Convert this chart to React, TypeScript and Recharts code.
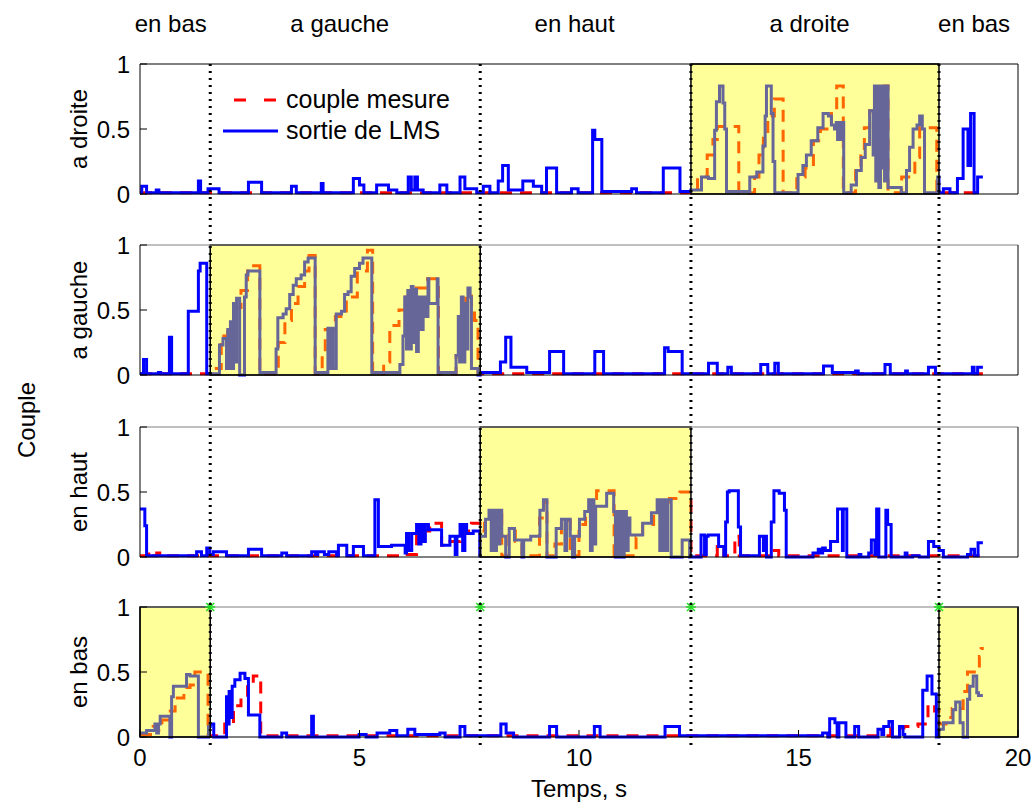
import React from 'react';
import {
  ComposedChart,
  Line,
  Scatter,
  XAxis,
  YAxis,
  ReferenceArea,
  ReferenceLine,
  Legend,
} from 'recharts';

type Pt = [number, number];

// labels
const seriesNames = ['couple mesure', 'sortie de LMS'];
const panelNames = ['a droite', 'a gauche', 'en haut', 'en bas'];
const phaseNames = ['en bas', 'a gauche', 'en haut', 'a droite', 'en bas'];
const phaseLabelAt = [0.7, 4.55, 9.9, 15.25, 19.0];
const switchTimes = [1.6, 7.75, 12.55, 18.2];
const xTicksFine = [0, 2, 4, 6, 8, 10, 12, 14, 16, 18, 20];
const xTicks = [0, 5, 10, 15, 20];
const yTicks = [0, 0.5, 1];

// shaded (active) intervals per panel
const droiteZones: Pt[] = [[12.55, 18.2]];
const gaucheZones: Pt[] = [[1.6, 7.75]];
const hautZones: Pt[] = [[7.75, 12.55]];
const basZones: Pt[] = [[0, 1.6], [18.2, 20]];

// step data [t, value] : value holds from t to next t
const droiteMes: Pt[] = [
  [0, 0.01], [12.7, 0.13], [12.92, 0.3], [13.05, 0.42], [13.15, 0.52], [13.64, 0.01],
  [14.0, 0.13], [14.1, 0.3], [14.2, 0.45], [14.3, 0.6], [14.45, 0.73], [14.65, 0.01],
  [14.96, 0.13], [15.15, 0.2], [15.34, 0.41], [15.5, 0.5], [15.75, 0.64], [15.87, 0.83], [16.02, 0.01],
  [16.3, 0.2], [16.42, 0.33], [16.5, 0.51], [16.62, 0.64], [16.96, 0.83], [17.04, 0.01],
  [17.35, 0.13], [17.65, 0.28], [17.76, 0.51], [18.15, 0.01], [19.2, 0.01],
];
const droiteLms: Pt[] = [
  [0, 0.01], [0.04, 0.06], [0.15, 0.01], [0.37, 0.03], [0.43, 0.01], [1.33, 0.1], [1.38, 0.01],
  [1.55, 0.04], [1.8, 0.01], [2.47, 0.09], [2.77, 0.01], [3.45, 0.06], [3.56, 0.01], [4.13, 0.08],
  [4.17, 0.01], [4.86, 0.12], [5.0, 0.07], [5.1, 0.01], [5.39, 0.07], [5.66, 0.03], [5.85, 0.01],
  [6.11, 0.13], [6.18, 0.03], [6.26, 0.13], [6.32, 0.03], [6.45, 0.01], [6.83, 0.07], [6.99, 0.01],
  [7.29, 0.13], [7.4, 0.04], [7.67, 0.01], [7.82, 0.06], [7.97, 0.01], [8.16, 0.1], [8.26, 0.22],
  [8.39, 0.03], [8.72, 0.1], [8.96, 0.06], [9.15, 0.01], [9.26, 0.2], [9.49, 0.01], [9.83, 0.04],
  [9.98, 0.01], [10.31, 0.49], [10.36, 0.42], [10.52, 0.02], [11.2, 0.04], [11.31, 0.01],
  [11.92, 0.2], [12.3, 0.02],
  [12.55, 0.03], [12.79, 0.13], [12.95, 0.12], [13.09, 0.49], [13.13, 0.71], [13.2, 0.83],
  [13.28, 0.7], [13.32, 0.5], [13.36, 0.02], [13.89, 0.13], [14.05, 0.17], [14.19, 0.37],
  [14.24, 0.6], [14.27, 0.83], [14.38, 0.62], [14.42, 0.25], [14.46, 0.01], [14.99, 0.15],
  [15.1, 0.22], [15.18, 0.3], [15.29, 0.41], [15.44, 0.51], [15.56, 0.62], [15.68, 0.6],
  [15.75, 0.53], [15.82, 0.5], [15.86, 0.55], [15.89, 0.42], [15.92, 0.55], [15.95, 0.42],
  [15.98, 0.55], [16.03, 0.01], [16.2, 0.07], [16.32, 0.18], [16.43, 0.28], [16.52, 0.38],
  [16.62, 0.64], [16.7, 0.3], [16.73, 0.83], [16.76, 0.1], [16.8, 0.83], [16.83, 0.05],
  [16.87, 0.83], [16.9, 0.2], [16.93, 0.83], [16.96, 0.1], [16.99, 0.83], [17.04, 0.05],
  [17.34, 0.01], [17.46, 0.18], [17.53, 0.36], [17.61, 0.5], [17.7, 0.53], [17.76, 0.6],
  [17.82, 0.5], [17.87, 0.01], [18.17, 0.13],
  [18.2, 0.01], [18.3, 0.04], [18.45, 0.01], [18.62, 0.12], [18.75, 0.5], [18.86, 0.22],
  [18.92, 0.62], [19.0, 0.01], [19.08, 0.13], [19.2, 0.13],
];

const gaucheMes: Pt[] = [
  [0, 0.01], [1.7, 0.05], [1.85, 0.3], [2.0, 0.4], [2.15, 0.52], [2.3, 0.65], [2.45, 0.8], [2.55, 0.84],
  [2.73, 0.01], [3.15, 0.25], [3.3, 0.42], [3.45, 0.55], [3.6, 0.68], [3.75, 0.8], [3.85, 0.92], [3.99, 0.01],
  [4.15, 0.15], [4.22, 0.35], [4.45, 0.45], [4.7, 0.6], [4.95, 0.8], [5.18, 0.96], [5.3, 0.01],
  [5.55, 0.1], [5.69, 0.38], [5.9, 0.5], [6.05, 0.6], [6.25, 0.67], [6.55, 0.74], [6.8, 0.01],
  [7.2, 0.15], [7.35, 0.45], [7.42, 0.62], [7.55, 0.54], [7.62, 0.42], [7.7, 0.01], [19.2, 0.01],
];
const gaucheLms: Pt[] = [
  [0, 0.01], [0.08, 0.12], [0.15, 0.01], [0.42, 0.02], [0.47, 0.01], [0.67, 0.29], [0.72, 0.01],
  [1.1, 0.49], [1.33, 0.8], [1.37, 0.86], [1.52, 0.01],
  [1.81, 0.23], [1.89, 0.28], [1.97, 0.05], [2.0, 0.35], [2.03, 0.05], [2.06, 0.41], [2.1, 0.05],
  [2.13, 0.55], [2.17, 0.1], [2.2, 0.59], [2.27, 0.0], [2.38, 0.6], [2.42, 0.77], [2.46, 0.8],
  [2.73, 0.02], [3.1, 0.2], [3.14, 0.44], [3.26, 0.47], [3.33, 0.51], [3.41, 0.62], [3.49, 0.69],
  [3.56, 0.74], [3.67, 0.77], [3.75, 0.87], [3.83, 0.9], [3.99, 0.02], [4.28, 0.36], [4.32, 0.05],
  [4.36, 0.36], [4.4, 0.05], [4.47, 0.47], [4.59, 0.49], [4.66, 0.62], [4.74, 0.64], [4.81, 0.76],
  [4.89, 0.82], [5.0, 0.86], [5.08, 0.9], [5.28, 0.02], [5.92, 0.08], [5.99, 0.3], [6.03, 0.6],
  [6.07, 0.2], [6.1, 0.65], [6.14, 0.2], [6.18, 0.68], [6.22, 0.25], [6.26, 0.66], [6.3, 0.18],
  [6.34, 0.6], [6.4, 0.35], [6.45, 0.6], [6.5, 0.45], [6.56, 0.74], [6.58, 0.55], [6.77, 0.74],
  [6.79, 0.02], [7.2, 0.15], [7.25, 0.45], [7.28, 0.1], [7.32, 0.6], [7.36, 0.1], [7.4, 0.55],
  [7.44, 0.2], [7.47, 0.67], [7.52, 0.6], [7.55, 0.05], [7.7, 0.0],
  [7.75, 0.02], [8.21, 0.1], [8.33, 0.29], [8.45, 0.06], [8.81, 0.02], [9.33, 0.18], [9.65, 0.01],
  [10.36, 0.18], [10.56, 0.01], [11.95, 0.21], [12.03, 0.18], [12.35, 0.01], [12.95, 0.09],
  [13.15, 0.01], [13.39, 0.06], [13.47, 0.01], [14.14, 0.08], [14.3, 0.01], [14.46, 0.09],
  [14.54, 0.01], [15.57, 0.07], [15.77, 0.02], [16.3, 0.03], [16.36, 0.01], [16.97, 0.08],
  [17.09, 0.01], [17.44, 0.03], [17.48, 0.01], [17.96, 0.06], [18.12, 0.01], [18.96, 0.06],
  [19.0, 0.01], [19.08, 0.06], [19.2, 0.06],
];

const hautMes: Pt[] = [
  [0, 0.01], [0.2, 0.04], [0.28, 0.01], [0.38, 0.03], [0.45, 0.01], [6.0, 0.02], [6.3, 0.2], [6.6, 0.26],
  [6.87, 0.09], [7.06, 0.12], [7.3, 0.2], [7.55, 0.26], [7.75, 0.2], [7.85, 0.26], [8.0, 0.35],
  [8.24, 0.01], [8.4, 0.2], [8.55, 0.12], [8.7, 0.01], [9.1, 0.3], [9.2, 0.42], [9.27, 0.01], [9.45, 0.1],
  [9.6, 0.28], [9.8, 0.01], [10.0, 0.25], [10.15, 0.35], [10.25, 0.45], [10.4, 0.51], [10.8, 0.01],
  [11.3, 0.15], [11.45, 0.25], [11.7, 0.36], [11.85, 0.42], [12.06, 0.45], [12.3, 0.5], [12.55, 0.01],
  [13.15, 0.08], [13.3, 0.01], [13.55, 0.16], [13.65, 0.01], [14.45, 0.05], [14.55, 0.01], [19.2, 0.01],
];
const hautLms: Pt[] = [
  [0, 0.37], [0.11, 0.24], [0.15, 0.01], [1.29, 0.04], [1.4, 0.01], [1.52, 0.07], [1.59, 0.02],
  [1.67, 0.04], [1.97, 0.01], [2.47, 0.06], [2.77, 0.01], [3.23, 0.03], [3.34, 0.01], [3.91, 0.04],
  [4.0, 0.02], [4.05, 0.04], [4.2, 0.02], [4.3, 0.04], [4.48, 0.01], [4.52, 0.09], [4.71, 0.01],
  [4.86, 0.08], [5.09, 0.01], [5.35, 0.44], [5.43, 0.08], [5.73, 0.09], [6.04, 0.03], [6.07, 0.18],
  [6.12, 0.05], [6.19, 0.18], [6.3, 0.25], [6.35, 0.1], [6.4, 0.25], [6.45, 0.12], [6.5, 0.25],
  [6.57, 0.21], [6.87, 0.09], [7.06, 0.16], [7.18, 0.02], [7.22, 0.16], [7.29, 0.25], [7.35, 0.05],
  [7.4, 0.25], [7.44, 0.18], [7.59, 0.2], [7.74, 0.01],
  [7.75, 0.16], [7.87, 0.29], [7.95, 0.36], [8.0, 0.05], [8.04, 0.36], [8.08, 0.05], [8.12, 0.36],
  [8.16, 0.1], [8.2, 0.36], [8.24, 0.16], [8.33, 0.0], [8.41, 0.22], [8.53, 0.13], [8.7, 0.0],
  [8.74, 0.13], [8.9, 0.16], [9.11, 0.36], [9.19, 0.44], [9.27, 0.0], [9.48, 0.22], [9.6, 0.29],
  [9.68, 0.05], [9.72, 0.29], [9.8, 0.16], [9.85, 0.0], [9.9, 0.16], [10.01, 0.29], [10.13, 0.35],
  [10.22, 0.44], [10.26, 0.05], [10.3, 0.44], [10.34, 0.1], [10.38, 0.39], [10.63, 0.49],
  [10.79, 0.35], [10.83, 0.0], [10.87, 0.35], [10.91, 0.0], [10.95, 0.35], [10.99, 0.0],
  [11.03, 0.35], [11.08, 0.05], [11.12, 0.3], [11.16, 0.17], [11.45, 0.26], [11.65, 0.34],
  [11.78, 0.44], [11.84, 0.05], [11.9, 0.44], [11.96, 0.05], [12.02, 0.44], [12.1, 0.0],
  [12.35, 0.13], [12.52, 0.0],
  [12.78, 0.17], [12.86, 0.02], [12.9, 0.16], [12.94, 0.17], [13.18, 0.08], [13.3, 0.01],
  [13.34, 0.27], [13.38, 0.5], [13.42, 0.51], [13.63, 0.23], [13.68, 0.01], [14.11, 0.16],
  [14.2, 0.05], [14.23, 0.16], [14.27, 0.0], [14.38, 0.27], [14.44, 0.51], [14.56, 0.49],
  [14.68, 0.36], [14.72, 0.0], [15.33, 0.03], [15.45, 0.06], [15.5, 0.03], [15.55, 0.07],
  [15.61, 0.05], [15.73, 0.12], [15.85, 0.12], [15.89, 0.37], [16.0, 0.05], [16.02, 0.37],
  [16.1, 0.0], [16.38, 0.02], [16.42, 0.0], [16.6, 0.03], [16.66, 0.13], [16.74, 0.02],
  [16.78, 0.37], [16.83, 0.0], [16.99, 0.36], [17.03, 0.25], [17.11, 0.0], [17.43, 0.03],
  [17.47, 0.0], [17.6, 0.01], [17.75, 0.0], [17.96, 0.12], [18.08, 0.08], [18.2, 0.05], [18.3, 0.0],
  [18.85, 0.02], [18.93, 0.06], [19.01, 0.01], [19.09, 0.11], [19.2, 0.11],
];

const basMes: Pt[] = [
  [0, 0.02], [0.3, 0.08], [0.42, 0.05], [0.5, 0.13], [0.65, 0.2], [0.8, 0.3], [1.0, 0.38],
  [1.14, 0.4], [1.25, 0.5], [1.55, 0.01], [1.93, 0.1], [2.13, 0.24], [2.3, 0.31], [2.45, 0.4],
  [2.58, 0.47], [2.75, 0.01], [17.1, 0.07], [17.4, 0.08], [17.72, 0.1], [17.95, 0.25], [18.1, 0.2],
  [18.2, 0.1], [18.36, 0.15], [18.5, 0.22], [18.75, 0.35], [18.85, 0.5], [19.12, 0.62],
  [19.16, 0.68], [19.22, 0.68],
];
const basLms: Pt[] = [
  [0, 0.03], [0.15, 0.05], [0.34, 0.1], [0.38, 0.03], [0.42, 0.1], [0.46, 0.16], [0.68, 0.0],
  [0.72, 0.31], [0.76, 0.39], [1.06, 0.48], [1.14, 0.47], [1.33, 0.0], [1.56, 0.08],
  [1.6, 0.1], [1.68, 0.0], [1.97, 0.31], [2.0, 0.1], [2.03, 0.35], [2.07, 0.15], [2.1, 0.39],
  [2.16, 0.44], [2.28, 0.49], [2.39, 0.45], [2.47, 0.17], [2.73, 0.0], [3.23, 0.03], [3.34, 0.0],
  [3.91, 0.16], [3.95, 0.0], [4.99, 0.02], [5.15, 0.0], [5.4, 0.03], [5.69, 0.05], [5.85, 0.01],
  [6.1, 0.06], [6.26, 0.02], [6.83, 0.03], [6.95, 0.0], [7.29, 0.08], [7.4, 0.01],
  [8.22, 0.1], [8.34, 0.03], [8.51, 0.0], [9.33, 0.08], [9.49, 0.0], [10.35, 0.08], [10.48, 0.0],
  [11.96, 0.08], [12.29, 0.01], [15.55, 0.03], [15.67, 0.0], [15.71, 0.14], [15.83, 0.11],
  [15.88, 0.0], [15.92, 0.11], [16.08, 0.0], [16.28, 0.08], [16.37, 0.0], [16.81, 0.06],
  [16.9, 0.02], [16.94, 0.08], [17.06, 0.12], [17.14, 0.0], [17.3, 0.08], [17.38, 0.02],
  [17.42, 0.0], [17.83, 0.36], [17.93, 0.47], [18.04, 0.33], [18.14, 0.0],
  [18.2, 0.06], [18.3, 0.11], [18.52, 0.21], [18.58, 0.27], [18.68, 0.11], [18.75, 0.0],
  [18.85, 0.29], [18.9, 0.39], [18.98, 0.47], [19.06, 0.34], [19.1, 0.32], [19.2, 0.32],
];

const W = 1033;
const PH = 130;
const FONT = '"Liberation Sans", Arial, Helvetica, sans-serif';
const BLUE = '#0000ff';
const RED = '#ff0000';

const toPts = (a: Pt[]) => a.map(([t, v]) => ({ t, v }));

function LegendBox(props: any) {
  const items = (props.payload || []).filter((e: any) => e.type !== 'none');
  return (
    <div style={{ fontFamily: FONT, fontSize: 25, color: '#000' }}>
      {items.map((e: any, i: number) => (
        <div key={i} style={{ display: 'flex', alignItems: 'center', height: 31 }}>
          <svg width={58} height={8} style={{ display: 'block' }}>
            <line
              x1={i === 0 ? 12 : 1}
              y1={4}
              x2={56}
              y2={4}
              stroke={e.color}
              strokeWidth={3}
              strokeDasharray={i === 0 ? '12 18' : undefined}
            />
          </svg>
          <span style={{ marginLeft: 6, whiteSpace: 'nowrap' }}>{e.value}</span>
        </div>
      ))}
    </div>
  );
}

function Star(p: any) {
  const { cx, cy } = p;
  return (
    <g stroke="#22dd22" strokeWidth={1.5}>
      <line x1={cx - 5} y1={cy} x2={cx + 5} y2={cy} />
      <line x1={cx} y1={cy - 5} x2={cx} y2={cy + 5} />
      <line x1={cx - 4} y1={cy - 4} x2={cx + 4} y2={cy + 4} />
      <line x1={cx - 4} y1={cy + 4} x2={cx + 4} y2={cy - 4} />
    </g>
  );
}

function Panel({
  top, name, mesure, lms, zones, ticks, first, last, markers, topColor,
}: {
  top: number; name: string; mesure: Pt[]; lms: Pt[]; zones: Pt[]; ticks: number[];
  first?: boolean; last?: boolean; markers?: number[]; topColor: string;
}) {
  const mt = 16;
  const axisH = last ? 62 : 1;
  const mb = last ? 4 : 16;
  const txt = { fill: '#000', fontSize: 24, fontFamily: FONT };
  return (
    <div style={{ position: 'absolute', left: 0, top: top - mt - 1 }}>
      <ComposedChart
        width={W}
        height={mt + 1 + PH + axisH + mb}
        margin={{ top: mt, right: 14, bottom: mb, left: 80 }}
      >
        <XAxis
          type="number"
          dataKey="t"
          domain={[0, 20]}
          ticks={ticks}
          interval={0}
          height={axisH}
          stroke="#000"
          tickSize={-7}
          tickMargin={last ? 19 : 0}
          tick={last ? txt : false}
          label={last ? { value: 'Temps, s', position: 'insideBottom', offset: 2, ...txt } : undefined}
        />
        <XAxis
          xAxisId="top"
          orientation="top"
          type="number"
          dataKey="t"
          domain={[0, 20]}
          ticks={ticks}
          interval={0}
          height={1}
          stroke={topColor}
          tickSize={-7}
          tick={false}
        />
        <YAxis
          type="number"
          domain={[0, 1]}
          ticks={yTicks}
          interval={0}
          width={60}
          stroke="#000"
          tickSize={-7}
          tickMargin={17}
          tick={txt}
          label={{
            value: name,
            angle: -90,
            position: 'insideLeft',
            offset: -2,
            style: { textAnchor: 'middle' },
            ...txt,
          }}
        />
        <YAxis
          yAxisId="right"
          orientation="right"
          type="number"
          domain={[0, 1]}
          ticks={yTicks}
          interval={0}
          width={1}
          stroke="#000"
          tickSize={-7}
          tick={false}
        />
        <Line
          data={toPts(mesure)}
          dataKey="v"
          name={seriesNames[0]}
          type="stepAfter"
          stroke={RED}
          strokeWidth={3}
          strokeDasharray="12 8"
          dot={false}
          activeDot={false}
          isAnimationActive={false}
        />
        <Line
          data={toPts(lms)}
          dataKey="v"
          name={seriesNames[1]}
          type="stepAfter"
          stroke={BLUE}
          strokeWidth={3}
          dot={false}
          activeDot={false}
          isAnimationActive={false}
        />
        {/* invisible series so that the box axes (top / right) get drawn */}
        <Line
          data={toPts(lms)}
          dataKey="v"
          xAxisId="top"
          yAxisId="right"
          stroke="none"
          legendType="none"
          dot={false}
          activeDot={false}
          isAnimationActive={false}
        />
        {zones.map(([a, b]) => (
          <ReferenceArea
            key={a}
            x1={a}
            x2={b}
            y1={0}
            y2={1}
            fill="#ffff00"
            fillOpacity={0.4}
            stroke="#000"
            strokeWidth={1.5}
            ifOverflow="visible"
            {...({ zIndex: 450 } as any)}
          />
        ))}
        {markers && (
          <Scatter
            data={markers.map((t) => ({ t, v: 1 }))}
            dataKey="v"
            shape={Star}
            legendType="none"
            isAnimationActive={false}
          />
        )}
        {first && (
          <Legend
            content={LegendBox}
            layout="vertical"
            align="center"
            verticalAlign="middle"
            wrapperStyle={{ left: 222, top: 37, width: 260 }}
          />
        )}
      </ComposedChart>
    </div>
  );
}

export default function App() {
  const guide = switchTimes.map((t) => ({ t, v: 0 }));
  return (
    <div
      style={{
        position: 'absolute',
        left: 0,
        top: 0,
        width: W,
        height: 805,
        background: '#fff',
        overflow: 'hidden',
      }}
    >
      <Panel top={64} name={panelNames[0]} mesure={droiteMes} lms={droiteLms} zones={droiteZones} ticks={xTicksFine} first topColor="#000" />
      <Panel top={245} name={panelNames[1]} mesure={gaucheMes} lms={gaucheLms} zones={gaucheZones} ticks={xTicks} topColor="#808080" />
      <Panel top={427} name={panelNames[2]} mesure={hautMes} lms={hautLms} zones={hautZones} ticks={xTicks} topColor="#808080" />
      <Panel top={607} name={panelNames[3]} mesure={basMes} lms={basLms} zones={basZones} ticks={xTicks} last markers={switchTimes} topColor="#808080" />

      <div
        style={{
          position: 'absolute',
          left: 27,
          top: 420,
          transform: 'translate(-50%, -50%) rotate(-90deg)',
          fontFamily: FONT,
          fontSize: 24,
          whiteSpace: 'nowrap',
          color: '#000',
        }}
      >
        Couple
      </div>

      <div style={{ position: 'absolute', left: 0, top: 0, pointerEvents: 'none' }}>
        <ComposedChart
          width={W}
          height={760}
          data={guide}
          margin={{ top: 63, right: 15, bottom: 15, left: 140 }}
        >
          <XAxis type="number" dataKey="t" domain={[0, 20]} hide />
          <YAxis type="number" domain={[0, 1]} hide />
          <Line dataKey="v" stroke="none" dot={false} activeDot={false} isAnimationActive={false} />
          {switchTimes.map((s) => (
            <ReferenceLine key={s} x={s} stroke="#000" strokeWidth={3} strokeDasharray="2 5" ifOverflow="visible" />
          ))}
          {phaseNames.map((n, i) => (
            <ReferenceLine
              key={'p' + i}
              x={phaseLabelAt[i]}
              stroke="#000"
              strokeOpacity={0}
              label={{ value: n, position: 'top', offset: 31, fill: '#000', fontSize: 24, fontFamily: FONT }}
            />
          ))}
        </ComposedChart>
      </div>
    </div>
  );
}
